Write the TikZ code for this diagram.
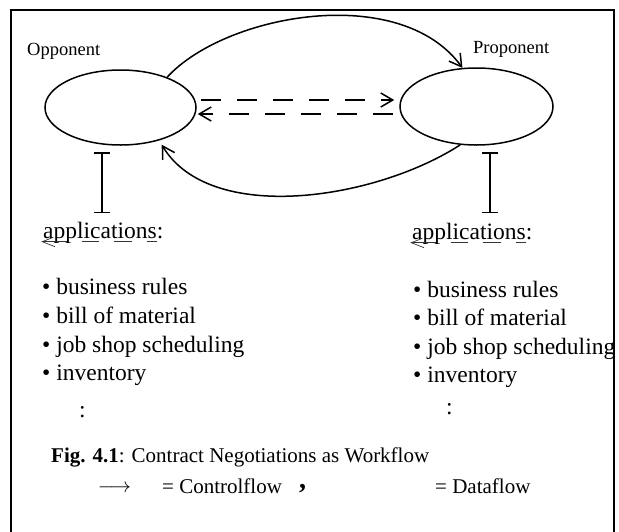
\documentclass[tikz,border=0pt]{standalone}
\usepackage{fontspec}
\setmainfont{Liberation Serif}
\usetikzlibrary{arrows.meta,shapes.geometric}
\newcommand{\fsz}[1]{\fontsize{#1}{#1}\selectfont}
\begin{document}
\begin{tikzpicture}[x=1pt,y=-1pt,
  agent/.style={ellipse,draw,line width=1.5pt,inner sep=0pt},
  lbl/.style={anchor=base west,inner sep=0pt,font=\fsz{18.5}},
  txt/.style={anchor=base west,inner sep=0pt,font=\fsz{23.5}},
  captxt/.style={anchor=base west,inner sep=0pt,font=\fsz{21}},
  ctrl/.style={line width=1.5pt,-{Straight Barb[length=12pt,width=14pt,line width=1.5pt]}},
  dataflow/.style={line width=1.5pt,dash pattern=on 20pt off 16pt,-{Straight Barb[length=12pt,width=14pt,line width=1.5pt]}},
  ibar/.style={line width=1.5pt,{Bar[width=16pt,line width=1.5pt]}-{Bar[width=16pt,line width=1.5pt]}},
  squig/.style={line width=0.7pt,black!80}]
\useasboundingbox (0,0) rectangle (619,531);
% frame (open at the bottom)
\draw[line width=1.5pt] (11,535) -- (11,10) -- (614,10) -- (614,535);

% agents
\node[agent,minimum width=151pt,minimum height=75pt] (opp) at (120.5,107.5) {};
\node[agent,minimum width=153pt,minimum height=77pt] (pro) at (476.5,106.5) {};
\node[lbl] (oppl) at (27,55) {Opponent};
\node[lbl] (prol) at (473,53) {Proponent};

% control flow
\draw[ctrl] (opp.33) .. controls (225,14) and (400,-18) .. (pro.110);
\draw[ctrl] (pro.-113) .. controls (375,200) and (210,225) .. ([yshift=-5pt]opp.-38);

% data flow between agents
\draw[dataflow] ([shift={(4pt,7.5pt)}]opp.east) -- ([shift={(-5pt,6.5pt)}]pro.west);
\draw[dataflow] ([shift={(-6pt,-7.5pt)}]pro.west) -- ([shift={(1pt,-6.5pt)}]opp.east);

% applications
\node[txt] (appL) at (43,238) {applications:};
\node[txt] (appR) at (412,239) {applications:};
\coordinate (ltop) at (102,152);
\coordinate (lbot) at (102,213);
\coordinate (rtop) at (490,152);
\coordinate (rbot) at (490,213);
\draw[ibar] (ltop) -- (lbot);
\draw[ibar] (rtop) -- (rbot);

\foreach \n in {appL,appR}{
  \begin{scope}[shift={(\n.base west)}]
    \draw[squig] (10.3,-0.7) -- (-0.7,3.7) -- (12,8.7);
    \draw[squig] (-0.7,3.5) -- (24,3.5);
    \draw[squig] (39,3.5) -- (56,3.5);
    \draw[squig] (71,3.5) -- (89,3.5);
    \draw[squig] (104,3.5) -- (114,3.5);
  \end{scope}
}

% lists
\node[txt] (l1) at (42,294) {• business rules};
\node[txt] (l2) at (42,323) {• bill of material};
\node[txt] (l3) at (42,352) {• job shop scheduling};
\node[txt] (l4) at (42,380) {• inventory};
\node[txt] (l5) at (79,417) {:};
\node[txt] (r1) at (413,297) {• business rules};
\node[txt] (r2) at (413,325) {• bill of material};
\node[txt] (r3) at (413,354) {• job shop scheduling};
\node[txt] (r4) at (413,382) {• inventory};
\node[txt] (r5) at (446,414) {:};

% caption and legend
\node[captxt] (caption) at (51,462) {\textbf{Fig. 4.1}: Contract Negotiations as Workflow};
\node[anchor=base,inner sep=0pt,font=\fsz{21}] (legarrow) at (114.5,492) {$\longrightarrow$};
\node[captxt] (legctrl) at (162,493) {= Controlflow};
\node[anchor=base west,inner sep=0pt,font=\fsz{28}\bfseries] (comma) at (299,488) {,};
\node[captxt] (legdata) at (435,493) {= Dataflow};
\end{tikzpicture}
\end{document}
